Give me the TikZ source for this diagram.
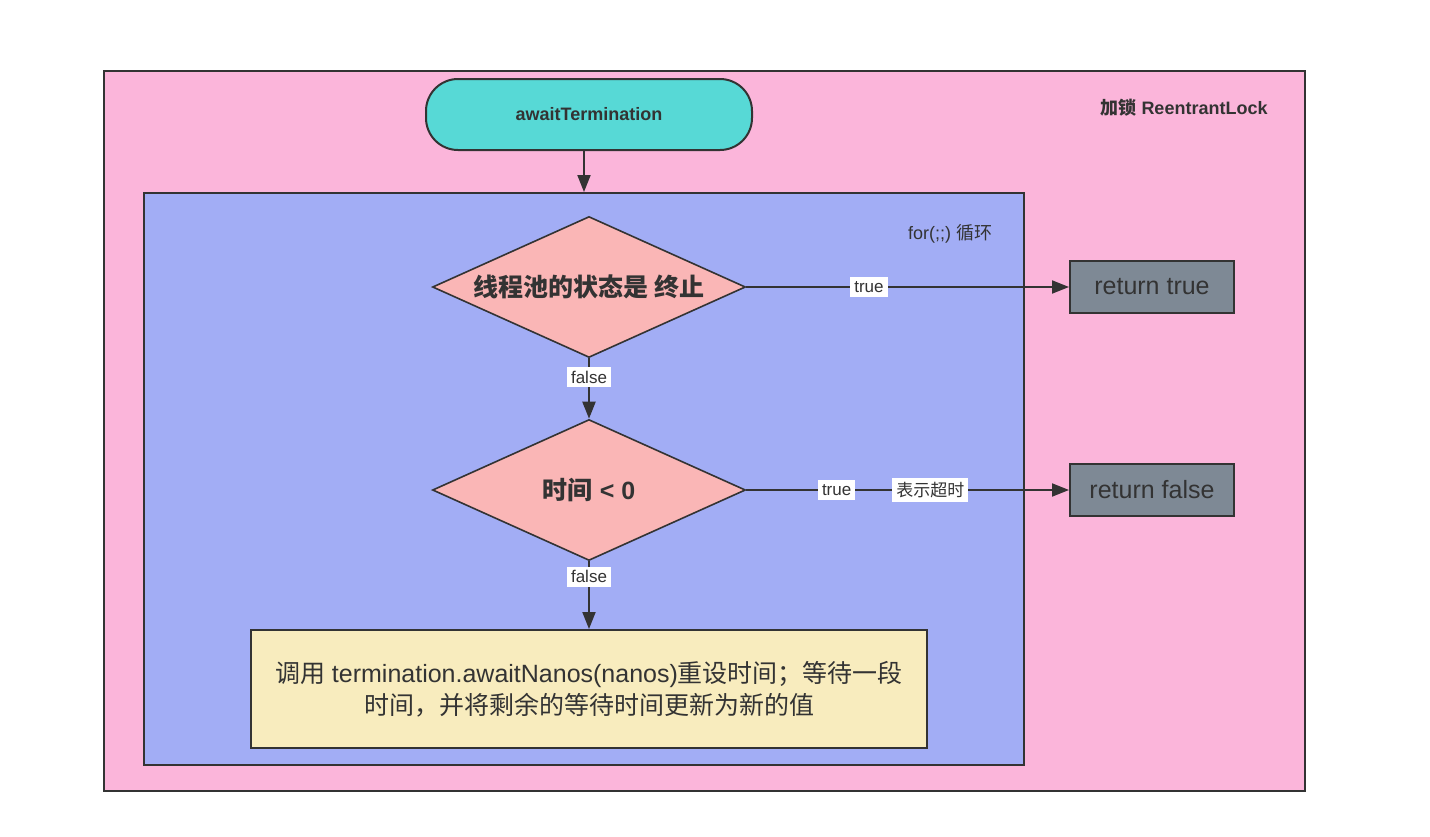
\documentclass[tikz,border=0pt]{standalone}
\usepackage{fontspec}
\setmainfont{Liberation Sans}
\newfontfamily\cjk{Noto Sans CJK SC}
\usetikzlibrary{shapes.geometric,arrows.meta}
\definecolor{outerpink}{RGB}{251,181,218}
\definecolor{loopblue}{RGB}{162,173,245}
\definecolor{startteal}{RGB}{87,217,214}
\definecolor{decpink}{RGB}{250,182,182}
\definecolor{procyellow}{RGB}{248,236,190}
\definecolor{retgrey}{RGB}{126,137,149}
\definecolor{ink}{RGB}{51,51,51}
\begin{document}
\begin{tikzpicture}[x=0.5pt,y=-0.5pt,
  every node/.style={text=ink},
  container/.style={draw=ink, line width=1pt, rectangle, inner sep=0pt},
  startbox/.style={draw=ink, line width=1pt, fill=startteal, rounded corners=16pt, minimum width=163pt, minimum height=35.5pt, font=\bfseries\fontsize{9}{11}\selectfont},
  decision/.style={draw=ink, line width=0.8pt, fill=decpink, diamond, aspect=2.236, inner sep=0pt, minimum width=156.5pt, minimum height=70.5pt, font=\bfseries\fontsize{12.5}{15}\selectfont},
  procbox/.style={draw=ink, line width=1pt, fill=procyellow, minimum width=338pt, minimum height=59pt, align=center, font=\fontsize{12.5}{16}\selectfont},
  retbox/.style={draw=ink, line width=1pt, fill=retgrey, minimum width=82pt, minimum height=26pt, font=\fontsize{12.5}{15}\selectfont},
  edgelabel/.style={fill=white, inner sep=2pt, font=\fontsize{8.5}{10}\selectfont},
  flow/.style={draw=ink, line width=1pt, -{Triangle[length=8.5pt,width=6.5pt]}},
  plaintext/.style={font=\fontsize{9}{11}\selectfont}
]
\useasboundingbox (0,0) rectangle (1430,836);
\fill[white] (0,0) rectangle (1430,836);

\node[container, fill=outerpink, minimum width=600.5pt, minimum height=360pt] (outer) at (704.5,431) {};
\node[plaintext, font=\bfseries\fontsize{9}{11}\selectfont] (locklabel) at (1184,108) {{\cjk 加锁} ReentrantLock};

\node[container, fill=loopblue, minimum width=440pt, minimum height=286pt] (loop) at (584,479) {};
\node[plaintext] (looplabel) at (950,234) {for(;;) {\cjk 循环}};

\node[startbox] (start) at (589,114.5) {awaitTermination};

\node[decision] (d1) at (589,287) {\cjk 线程池的状态是 终止};
\node[decision] (d2) at (589,490) {{\cjk 时间} < 0};
\node[procbox] (proc) at (589,689) {{\cjk 调用} termination.awaitNanos(nanos){\cjk 重设时间；等待一段}\\{\cjk 时间，并将剩余的等待时间更新为新的值}};

\node[retbox] (rt) at (1152,287) {return true};
\node[retbox] (rf) at (1152,490) {return false};

\draw[flow] (start.south -| loop.north) -- (loop.north);
\draw[flow] (d1.east) -- node[edgelabel, pos=0.38] {true} (rt.west);
\draw[flow] (d1.south) -- node[edgelabel, pos=0.31] {false} (d2.north);
\draw[flow] (d2.east) -- node[edgelabel, pos=0.28] {true} node[edgelabel, pos=0.57] {\cjk 表示超时} (rf.west);
\draw[flow] (d2.south) -- node[edgelabel, pos=0.23] {false} (proc.north);
\end{tikzpicture}
\end{document}
